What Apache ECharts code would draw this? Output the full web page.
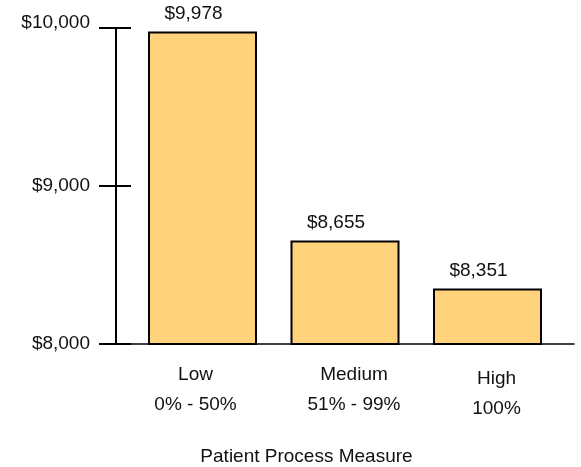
<!DOCTYPE html>
<html>
<head>
<meta charset="utf-8">
<style>
  html, body { margin: 0; padding: 0; background: #fff; }
  #chart { width: 581px; height: 467px; }
</style>
<script src="https://cdn.jsdelivr.net/npm/echarts@6/dist/echarts.min.js"></script>
</head>
<body>
<div id="chart"></div>
<script>
// Average cost by patient process measure group
const groupNames = ['Low', 'Medium', 'High'];
const groupRanges = ['0% - 50%', '51% - 99%', '100%'];
const groupPositions = [1, 2, 3];
const costValues = [9978, 8655, 8351];
const costTicks = [8000, 9000, 10000];

const FONT = '"Liberation Sans", Arial, sans-serif';
const INK = '#111';

const money = v => '$' + Math.round(v).toLocaleString('en-US');

// Rich-text styles nudge each two-line category label a little
const labelStyles = [
  { padding: [0, 14, 0, 0], lineHeight: 30, drop: 0 },
  { padding: [0, 0, 0, 18], lineHeight: 30, drop: 0 },
  { padding: [0, 0, 0, 18], lineHeight: 30, drop: 4 }
];
const rich = { sp: { fontSize: 1, lineHeight: 4 } };
labelStyles.forEach((s, i) => {
  rich['c' + i] = {
    fontSize: 19, fontFamily: FONT, color: INK, align: 'center',
    padding: s.padding, lineHeight: s.lineHeight
  };
});

const chart = echarts.init(document.getElementById('chart'), null, { renderer: 'canvas' });

const yBase = {
  type: 'value',
  min: costTicks[0],
  max: costTicks[costTicks.length - 1],
  interval: 1000,
  position: 'left',
  offset: 0,
  splitLine: { show: false }
};

chart.setOption({
  animation: false,
  backgroundColor: '#fff',
  grid: { left: 116, right: 7, top: 28, bottom: 123, containLabel: false, outerBoundsMode: 'none' },
  xAxis: {
    type: 'value',
    min: 0.393,
    max: 3.607,
    name: 'Patient Process Measure',
    nameLocation: 'middle',
    nameGap: 103,
    nameTextStyle: { fontSize: 19, fontFamily: FONT, color: INK, padding: [0, 77, 0, 0] },
    axisLine: { show: true, onZero: false, lineStyle: { color: '#000', width: 1.5 } },
    axisTick: { show: false },
    splitLine: { show: false },
    axisLabel: {
      customValues: groupPositions,
      margin: 16,
      formatter: v => {
        const i = groupPositions.indexOf(Math.round(v));
        if (i < 0) return '';
        const lead = labelStyles[i].drop ? '{sp| }\n' : '';
        return lead + '{c' + i + '|' + groupNames[i] + '}\n{c' + i + '|' + groupRanges[i] + '}';
      },
      rich: rich
    }
  },
  yAxis: [
    Object.assign({}, yBase, {
      axisLine: { show: true, lineStyle: { color: '#000', width: 2 } },
      axisTick: { show: true, length: 17, lineStyle: { color: '#000', width: 2 } },
      axisLabel: {
        margin: 26,
        fontSize: 19,
        fontFamily: FONT,
        color: INK,
        // the top tick label sits slightly raised
        formatter: v => v === costTicks[costTicks.length - 1] ? '{up|' + money(v) + '}' : money(v),
        rich: { up: { fontSize: 19, fontFamily: FONT, color: INK, padding: [0, 0, 10, 0] } }
      }
    }),
    Object.assign({}, yBase, {
      axisLine: { show: false },
      axisTick: { show: true, inside: true, length: 15, lineStyle: { color: '#000', width: 2 } },
      axisLabel: { show: false }
    })
  ],
  series: [{
    type: 'bar',
    xAxisIndex: 0,
    yAxisIndex: 0,
    barWidth: 109,
    data: groupPositions.map((x, i) => [x, costValues[i]]),
    itemStyle: { color: '#FED37B', borderColor: '#000', borderWidth: 2 },
    label: {
      show: true,
      position: 'top',
      distance: 8,
      offset: [-9, 0],
      fontSize: 19,
      fontFamily: FONT,
      color: INK,
      formatter: p => money(p.value[1])
    }
  }]
});
</script>
</body>
</html>
